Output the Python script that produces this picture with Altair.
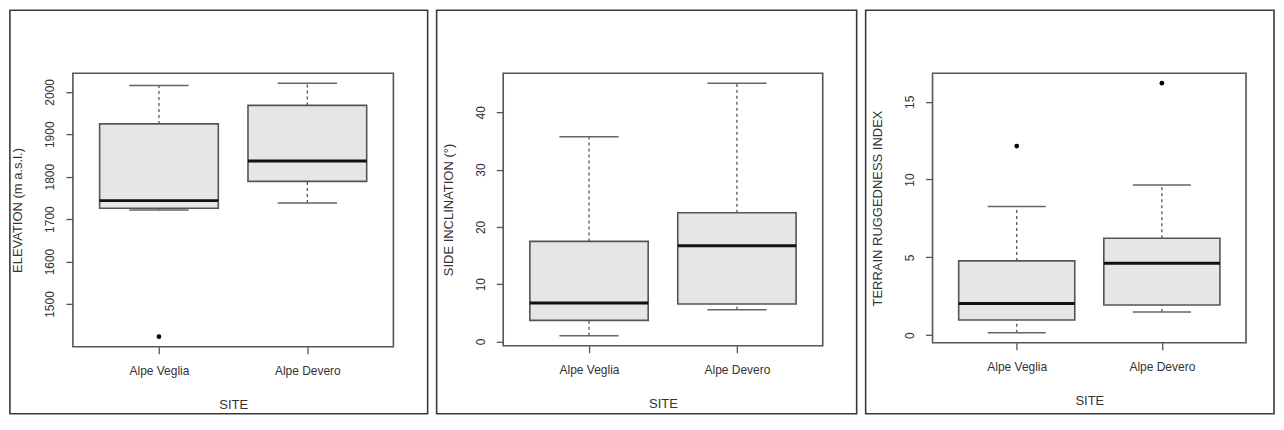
import altair as alt
import pandas as pd

# ---------------- data ----------------
categories = ["Alpe Veglia", "Alpe Devero"]

# Panel 1: elevation
elev_lo = [1721.7, 1738.0]
elev_q1 = [1725.5, 1789.0]
elev_med = [1743.6, 1837.0]
elev_q3 = [1924.5, 1968.0]
elev_hi = [2015.0, 2020.0]
elev_out_site = ["Alpe Veglia"]
elev_out_val = [1423.0]
elev_ticks = [1500, 1600, 1700, 1800, 1900, 2000]

# Panel 2: side inclination
incl_lo = [1.0, 5.54]
incl_q1 = [3.67, 6.53]
incl_med = [6.7, 16.72]
incl_q3 = [17.47, 22.48]
incl_hi = [35.75, 45.07]
incl_out_site = []
incl_out_val = []
incl_ticks = [0, 10, 20, 30, 40]

# Panel 3: terrain ruggedness index
tri_lo = [0.15, 1.48]
tri_q1 = [0.97, 1.94]
tri_med = [2.04, 4.62]
tri_q3 = [4.77, 6.23]
tri_hi = [8.26, 9.65]
tri_out_site = ["Alpe Veglia", "Alpe Devero"]
tri_out_val = [12.15, 16.19]
tri_ticks = [0, 5, 10, 15]

FONT = "Liberation Sans"
BOXCOL = "#555555"


def panel(lo, q1, med, q3, hi, out_site, out_val, ticks, ytitle,
          W, H, L, R, T, B):
    pos = list(range(1, len(categories) + 1))
    df = pd.DataFrame({"site": categories, "pos": pos, "lo": lo, "q1": q1,
                       "med": med, "q3": q3, "hi": hi})
    odf = pd.DataFrame({"site": out_site,
                        "pos": [categories.index(s) + 1 for s in out_site],
                        "val": out_val})
    allv = lo + hi + out_val
    span = max(allv) - min(allv)
    ydom = [min(allv) - 0.04 * span, max(allv) + 0.04 * span]
    n = len(categories)
    xs = alt.Scale(domain=[0.5 - 0.04 * n, n + 0.5 + 0.04 * n], nice=False, zero=False)
    ys = alt.Scale(domain=ydom, nice=False, zero=False)

    label_expr = " : ".join(
        [f"datum.value == {i + 1} ? '{c}'" for i, c in enumerate(categories[:-1])]
        + [f"'{categories[-1]}'"])

    xaxis = alt.Axis(values=pos, labelExpr=label_expr, title="SITE", grid=False,
                     domain=False, tickSize=7, tickColor=BOXCOL, tickWidth=1.3,
                     labelFont=FONT, labelFontSize=12, labelColor="#333333",
                     labelPadding=12, titleFont=FONT, titleFontSize=13,
                     titleFontWeight="normal", titleColor="#333333",
                     titleY=58, titleBaseline="middle")
    yaxis = alt.Axis(values=ticks, format="d", title=ytitle, grid=False, domain=False,
                     tickSize=7, tickColor=BOXCOL, tickWidth=1.3,
                     labelFont=FONT, labelFontSize=12, labelColor="#333333",
                     labelAngle=270, labelAlign="center", labelBaseline="bottom",
                     labelPadding=9, titleFont=FONT, titleFontSize=13,
                     titleFontWeight="normal", titleColor="#333333",
                     titleAngle=270, titleAlign="center", titleBaseline="middle",
                     titleX=-55, titleY=H / 2)

    def X(f):
        return alt.X(f, scale=xs, axis=xaxis, title="SITE")

    def Y(f):
        return alt.Y(f, scale=ys, axis=yaxis, title=ytitle)

    base = alt.Chart(df).transform_calculate(
        x1="datum.pos - 0.4", x2="datum.pos + 0.4",
        c1="datum.pos - 0.2", c2="datum.pos + 0.2")

    frame = alt.Chart(pd.DataFrame({"f": [0]})).mark_rect(
        fillOpacity=0, stroke="#3a3a3a", strokeWidth=1.6).encode(
        x=alt.value(-L), x2=alt.value(W + R), y=alt.value(-T), y2=alt.value(H + B))

    whisk_up = base.mark_rule(color=BOXCOL, strokeWidth=1.3, strokeDash=[3, 3]).encode(
        x=X("pos:Q"), y=Y("q3:Q"), y2="hi:Q")
    whisk_dn = base.mark_rule(color=BOXCOL, strokeWidth=1.3, strokeDash=[3, 3]).encode(
        x=X("pos:Q"), y=Y("lo:Q"), y2="q1:Q")
    cap_hi = base.mark_rule(color="#666666", strokeWidth=1.5).encode(
        x=X("c1:Q"), x2="c2:Q", y=Y("hi:Q"))
    cap_lo = base.mark_rule(color="#666666", strokeWidth=1.5).encode(
        x=X("c1:Q"), x2="c2:Q", y=Y("lo:Q"))
    box = base.mark_rect(fill="#e6e6e6", stroke=BOXCOL, strokeWidth=1.6).encode(
        x=X("x1:Q"), x2="x2:Q", y=Y("q1:Q"), y2="q3:Q")
    median = base.mark_rule(color="#111111", strokeWidth=3).encode(
        x=X("x1:Q"), x2="x2:Q", y=Y("med:Q"))
    layers = [frame, whisk_up, whisk_dn, cap_hi, cap_lo, box, median]
    if len(odf):
        outl = alt.Chart(odf).mark_circle(color="#000000", size=22, opacity=1).encode(
            x=X("pos:Q"), y=Y("val:Q"))
        layers.append(outl)
    return alt.layer(*layers).properties(width=W, height=H)


p1 = panel(elev_lo, elev_q1, elev_med, elev_q3, elev_hi, elev_out_site, elev_out_val,
           elev_ticks, "ELEVATION (m a.s.l.)", 321, 274, 63.1, 34.3, 63.1, 67)
p2 = panel(incl_lo, incl_q1, incl_med, incl_q3, incl_hi, incl_out_site, incl_out_val,
           incl_ticks, "SIDE INCLINATION (°)", 320, 273, 66.7, 34, 63.1, 68)
p3 = panel(tri_lo, tri_q1, tri_med, tri_q3, tri_hi, tri_out_site, tri_out_val,
           tri_ticks, "TERRAIN RUGGEDNESS INDEX", 314, 270, 67, 28, 63.1, 71)

chart = alt.hconcat(p1, p2, p3, spacing=110, bounds="flush").properties(
    padding=0, background="white"
).configure(font=FONT, view=alt.ViewConfig(stroke=BOXCOL, strokeWidth=1.6))

chart.save("out.html", embed_options={"renderer": "svg", "actions": False})
